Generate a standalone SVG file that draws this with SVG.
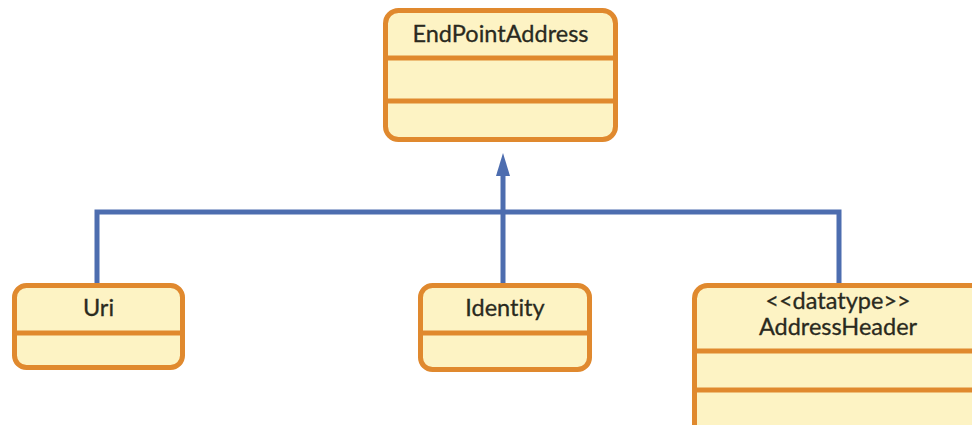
<svg xmlns="http://www.w3.org/2000/svg" width="972" height="425" viewBox="0 0 972 425">
  <style>
    .box { fill: #fdf3c4; stroke: #e0892e; stroke-width: 5; }
    .div { stroke: #e0892e; stroke-width: 5; }
    .label { font-family: Lato, "Open Sans", sans-serif; font-size: 23.5px; fill: #2a2a1e; stroke: #2a2a1e; stroke-width: 0.3; text-anchor: middle; font-variant-ligatures: none; }
    .edge { fill: none; stroke: #4d6daf; stroke-width: 5; }
  </style>

  <rect width="972" height="425" fill="#ffffff"/>

  <g id="connectors">
    <path class="edge" d="M97 283 V212 H839 V283"/>
    <path class="edge" d="M503 283 V172"/>
    <path d="M503 153 L510 176 L496 176 Z" fill="#4d6daf"/>
  </g>

  <g id="EndPointAddress">
    <rect class="box" x="385.5" y="10.5" width="230" height="129" rx="13"/>
    <line class="div" x1="385.5" y1="58" x2="615.5" y2="58"/>
    <line class="div" x1="385.5" y1="101" x2="615.5" y2="101"/>
    <text class="label" x="500.5" y="42">EndPointAddress</text>
  </g>

  <g id="Uri">
    <rect class="box" x="14.5" y="285.5" width="168" height="82" rx="12"/>
    <line class="div" x1="14.5" y1="333" x2="182.5" y2="333"/>
    <text class="label" x="98.5" y="316">Uri</text>
  </g>

  <g id="Identity">
    <rect class="box" x="420.5" y="285.5" width="169" height="84" rx="12"/>
    <line class="div" x1="420.5" y1="333" x2="589.5" y2="333"/>
    <text class="label" x="505" y="316">Identity</text>
  </g>

  <g id="AddressHeader">
    <rect class="box" x="694.5" y="285.5" width="300" height="160" rx="13"/>
    <line class="div" x1="694.5" y1="351" x2="972" y2="351"/>
    <line class="div" x1="694.5" y1="390" x2="972" y2="390"/>
    <text class="label" x="838" y="309">&lt;&lt;datatype&gt;&gt;</text>
    <text class="label" x="838" y="335">AddressHeader</text>
  </g>
</svg>
